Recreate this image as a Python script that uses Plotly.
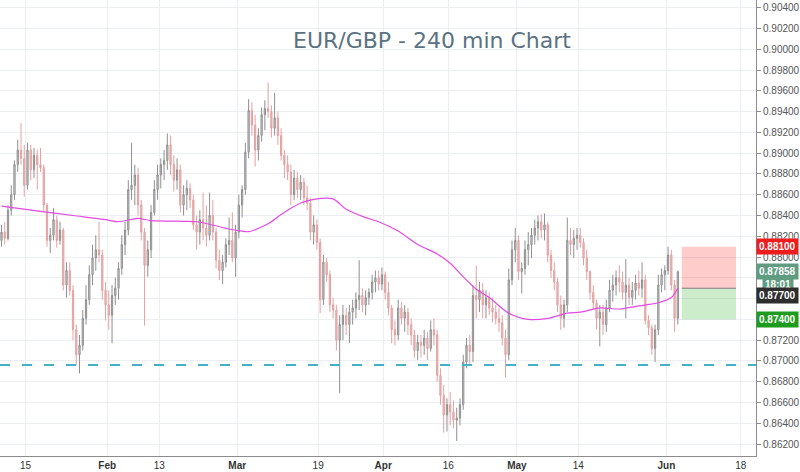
import numpy as np
import pandas as pd
import plotly.graph_objects as go

# ---------------- DATA ----------------
# EUR/GBP, two candles per trading day (AM / PM half), prices in pips (1 pip = 0.0001)
first_day, last_day = "2018-01-09", "2018-06-04"

open_pips = [
    8821, 8816, 8824, 8818, 8845, 8860, 8889, 8903, 8895, 8869,
    8903, 8884, 8898, 8889, 8886, 8850, 8816, 8821, 8836, 8816,
    8826, 8773, 8787, 8768, 8730, 8706, 8715, 8741, 8759, 8783,
    8799, 8807, 8802, 8768, 8754, 8744, 8763, 8770, 8789, 8812,
    8826, 8865, 8869, 8879, 8850, 8824, 8792, 8807, 8843, 8865,
    8879, 8889, 8893, 8908, 8889, 8874, 8884, 8850, 8860, 8866,
    8855, 8831, 8824, 8836, 8828, 8821, 8840, 8824, 8797, 8787,
    8795, 8812, 8816, 8799, 8824, 8850, 8865, 8901, 8941, 8927,
    8903, 8917, 8937, 8943, 8940, 8924, 8934, 8917, 8898, 8889,
    8882, 8860, 8876, 8865, 8872, 8857, 8852, 8824, 8831, 8814,
    8759, 8795, 8783, 8754, 8749, 8720, 8735, 8744, 8735, 8747,
    8751, 8759, 8763, 8754, 8761, 8766, 8776, 8780, 8774, 8783,
    8766, 8751, 8730, 8725, 8751, 8741, 8747, 8735, 8725, 8710,
    8718, 8715, 8722, 8712, 8730, 8725, 8686, 8667, 8648, 8658,
    8651, 8643, 8645, 8658, 8699, 8715, 8709, 8763, 8759, 8768,
    8754, 8761, 8751, 8747, 8741, 8737, 8722, 8706, 8778, 8807,
    8816, 8786, 8789, 8807, 8812, 8821, 8828, 8834, 8826, 8831,
    8802, 8787, 8776, 8754, 8741, 8754, 8816, 8812, 8818, 8821,
    8814, 8799, 8786, 8766, 8756, 8741, 8747, 8735, 8751, 8768,
    8773, 8780, 8776, 8766, 8773, 8761, 8768, 8775, 8770, 8778,
    8739, 8732, 8712, 8730, 8773, 8783, 8787, 8802, 8773, 8741,
]
high_pips = [
    8834, 8831, 8834, 8850, 8869, 8893, 8913, 8929, 8908, 8910,
    8908, 8905, 8903, 8905, 8889, 8852, 8828, 8847, 8840, 8834,
    8828, 8795, 8795, 8773, 8735, 8725, 8749, 8773, 8792, 8812,
    8821, 8834, 8807, 8776, 8768, 8773, 8780, 8795, 8821, 8834,
    8874, 8910, 8889, 8886, 8855, 8828, 8816, 8850, 8874, 8889,
    8895, 8903, 8919, 8917, 8898, 8895, 8889, 8869, 8874, 8871,
    8860, 8840, 8845, 8862, 8850, 8862, 8855, 8828, 8807, 8802,
    8818, 8838, 8843, 8831, 8860, 8869, 8910, 8952, 8949, 8937,
    8924, 8944, 8951, 8968, 8946, 8958, 8940, 8924, 8903, 8898,
    8889, 8884, 8882, 8879, 8876, 8869, 8857, 8840, 8836, 8818,
    8802, 8799, 8787, 8761, 8754, 8744, 8754, 8751, 8754, 8759,
    8766, 8797, 8770, 8768, 8770, 8783, 8787, 8787, 8790, 8786,
    8776, 8754, 8739, 8759, 8757, 8754, 8751, 8741, 8730, 8725,
    8725, 8730, 8728, 8739, 8741, 8730, 8693, 8677, 8664, 8670,
    8662, 8655, 8664, 8706, 8722, 8725, 8773, 8792, 8776, 8775,
    8768, 8766, 8761, 8754, 8751, 8744, 8730, 8789, 8816, 8828,
    8821, 8795, 8816, 8824, 8828, 8836, 8840, 8841, 8842, 8834,
    8807, 8795, 8780, 8763, 8759, 8838, 8828, 8826, 8828, 8828,
    8818, 8807, 8787, 8773, 8759, 8754, 8754, 8759, 8778, 8783,
    8787, 8792, 8786, 8798, 8780, 8776, 8783, 8787, 8795, 8783,
    8744, 8735, 8735, 8783, 8789, 8792, 8810, 8807, 8778, 8787,
]
low_pips = [
    8812, 8810, 8812, 8816, 8840, 8855, 8882, 8889, 8858, 8865,
    8874, 8876, 8865, 8882, 8843, 8810, 8804, 8816, 8809, 8812,
    8768, 8761, 8763, 8720, 8696, 8688, 8710, 8735, 8754, 8773,
    8787, 8795, 8759, 8739, 8730, 8717, 8754, 8759, 8783, 8802,
    8821, 8855, 8850, 8840, 8816, 8734, 8781, 8799, 8840, 8855,
    8866, 8874, 8884, 8879, 8863, 8865, 8843, 8840, 8845, 8847,
    8826, 8807, 8812, 8816, 8810, 8816, 8816, 8789, 8778, 8774,
    8790, 8802, 8795, 8781, 8818, 8838, 8860, 8895, 8917, 8887,
    8893, 8911, 8922, 8934, 8915, 8917, 8908, 8893, 8876, 8874,
    8850, 8855, 8857, 8855, 8850, 8845, 8816, 8812, 8807, 8746,
    8754, 8776, 8747, 8741, 8710, 8669, 8720, 8725, 8717, 8735,
    8741, 8749, 8747, 8744, 8754, 8759, 8766, 8768, 8768, 8759,
    8744, 8717, 8715, 8720, 8735, 8728, 8725, 8715, 8703, 8701,
    8703, 8706, 8701, 8709, 8715, 8680, 8658, 8631, 8632, 8638,
    8635, 8623, 8638, 8653, 8693, 8696, 8699, 8741, 8747, 8741,
    8741, 8744, 8737, 8735, 8728, 8715, 8684, 8701, 8773, 8795,
    8778, 8765, 8783, 8792, 8799, 8812, 8816, 8818, 8816, 8795,
    8780, 8768, 8747, 8730, 8732, 8747, 8802, 8799, 8807, 8809,
    8792, 8778, 8759, 8749, 8730, 8714, 8725, 8728, 8747, 8757,
    8763, 8766, 8759, 8741, 8754, 8754, 8759, 8763, 8761, 8735,
    8725, 8706, 8699, 8725, 8766, 8768, 8783, 8768, 8728, 8735,
]
close_pips = [
    8816, 8824, 8818, 8845, 8860, 8889, 8903, 8895, 8869, 8903,
    8884, 8898, 8889, 8886, 8850, 8816, 8821, 8836, 8816, 8826,
    8773, 8787, 8768, 8730, 8706, 8715, 8741, 8759, 8783, 8799,
    8807, 8802, 8768, 8754, 8744, 8763, 8770, 8789, 8812, 8826,
    8865, 8869, 8879, 8850, 8824, 8792, 8807, 8843, 8865, 8879,
    8889, 8893, 8908, 8889, 8874, 8884, 8850, 8860, 8866, 8855,
    8831, 8824, 8836, 8828, 8821, 8840, 8824, 8797, 8787, 8795,
    8812, 8816, 8799, 8824, 8850, 8865, 8901, 8941, 8927, 8903,
    8917, 8937, 8943, 8940, 8924, 8934, 8917, 8898, 8889, 8882,
    8860, 8876, 8865, 8872, 8857, 8852, 8824, 8831, 8814, 8759,
    8795, 8783, 8754, 8749, 8720, 8735, 8744, 8735, 8747, 8751,
    8759, 8763, 8754, 8761, 8766, 8776, 8780, 8774, 8783, 8766,
    8751, 8730, 8725, 8751, 8741, 8747, 8735, 8725, 8710, 8718,
    8715, 8722, 8712, 8730, 8725, 8686, 8667, 8648, 8658, 8651,
    8643, 8645, 8658, 8699, 8715, 8709, 8763, 8759, 8768, 8754,
    8761, 8751, 8747, 8741, 8737, 8722, 8706, 8778, 8807, 8816,
    8786, 8789, 8807, 8812, 8821, 8828, 8834, 8826, 8831, 8802,
    8787, 8776, 8754, 8741, 8754, 8816, 8812, 8818, 8821, 8814,
    8799, 8786, 8766, 8756, 8741, 8747, 8735, 8751, 8768, 8773,
    8780, 8776, 8766, 8773, 8761, 8768, 8775, 8770, 8778, 8739,
    8732, 8712, 8730, 8773, 8783, 8787, 8802, 8773, 8741, 8785.8,
]

# 200-period moving average (trading day -> value)
ma_days = ["2018-01-09", "2018-01-17", "2018-01-24", "2018-01-31", "2018-02-02",
           "2018-02-07", "2018-02-09", "2018-02-20", "2018-02-27", "2018-03-01",
           "2018-03-02", "2018-03-07", "2018-03-09", "2018-03-14", "2018-03-16",
           "2018-03-21", "2018-03-23", "2018-03-28", "2018-03-30", "2018-04-04",
           "2018-04-09", "2018-04-12", "2018-04-16", "2018-04-18", "2018-04-20",
           "2018-04-24", "2018-04-27", "2018-05-02", "2018-05-07", "2018-05-10",
           "2018-05-14", "2018-05-17", "2018-05-22", "2018-05-25", "2018-05-30",
           "2018-06-01", "2018-06-04"]
ma_vals = [0.8849, 0.8844, 0.8840, 0.8836, 0.8834,
           0.88373, 0.8835, 0.8834, 0.8827, 0.8825,
           0.88244, 0.8832, 0.8841, 0.8852, 0.88556,
           0.8856, 0.8846, 0.8838, 0.8834, 0.8825,
           0.8812, 0.8803, 0.8794, 0.8781, 0.8769,
           0.8761, 0.8746, 0.8740, 0.8741, 0.8746,
           0.8747, 0.8751, 0.8750, 0.8753, 0.8756,
           0.8761, 0.8770]

support_level = 0.8696
entry_price, stop_price, target_price = 0.8770, 0.8810, 0.8740
last_price = 0.87858
countdown = "18:01"

price_ticks = [0.862, 0.864, 0.866, 0.868, 0.870, 0.872, 0.874, 0.876, 0.878, 0.880,
               0.882, 0.884, 0.886, 0.888, 0.890, 0.892, 0.894, 0.896, 0.898, 0.900,
               0.902, 0.904]
hidden_price_ticks = [0.874, 0.876, 0.878]   # covered by the price badges in the reference

tick_dates = ["2018-01-15", "2018-02-01", "2018-02-13", "2018-03-01", "2018-03-19",
              "2018-04-02", "2018-04-16", "2018-05-01", "2018-05-14", "2018-06-01",
              "2018-06-18"]
tick_text = ["15", "<b>Feb</b>", "13", "<b>Mar</b>", "19", "<b>Apr</b>", "16",
             "<b>May</b>", "14", "<b>Jun</b>", "18"]
title_text = "EUR/GBP - 240 min Chart"

# ---------------- BUILD ----------------
origin = np.datetime64("2018-01-15")


def tday(d):
    return np.busday_count(origin, np.datetime64(d))


days = pd.bdate_range(first_day, last_day)
day_idx = np.array([tday(str(d.date())) for d in days])
cx = np.repeat(day_idx, 2) + np.tile([0.25, 0.75], len(day_idx))

o = [v / 10000 for v in open_pips]
h = [v / 10000 for v in high_pips]
l = [v / 10000 for v in low_pips]
c = [v / 10000 for v in close_pips]

ma_x = [tday(d) + 0.75 for d in ma_days]

# Monday labels sit after the Sunday session, slightly right of the day start
tick_x = [tday(d) + (0.44 if pd.Timestamp(d).weekday() == 0 else 0.0) for d in tick_dates]

ytext = ["" if v in hidden_price_ticks else "%.5f" % v for v in price_ticks]

fig = go.Figure()
fig.add_trace(go.Candlestick(
    x=cx, open=o, high=h, low=l, close=c,
    increasing=dict(line=dict(color="#8f8f8f", width=1), fillcolor="#d6d6d6"),
    decreasing=dict(line=dict(color="#e3a1a1", width=1), fillcolor="#efbcbc"),
    whiskerwidth=0, showlegend=False, hoverinfo="skip",
))
fig.add_trace(go.Scatter(
    x=ma_x, y=ma_vals, mode="lines",
    line=dict(color="#e24ae2", width=1.2, shape="spline", smoothing=0.8),
    showlegend=False, hoverinfo="skip",
))

box_x0 = cx[-1] + 0.6
box_x1 = box_x0 + 8.35

shapes = [
    dict(type="line", xref="paper", x0=0, x1=1, yref="y", y0=support_level, y1=support_level,
         line=dict(color="#44b2c6", width=2, dash="10px,12px"), layer="above"),
    dict(type="rect", xref="x", x0=box_x0, x1=box_x1, yref="y", y0=entry_price, y1=stop_price,
         fillcolor="rgba(255,0,0,0.2)", line=dict(width=0), layer="above"),
    dict(type="rect", xref="x", x0=box_x0, x1=box_x1, yref="y", y0=target_price, y1=entry_price,
         fillcolor="rgba(0,160,0,0.2)", line=dict(width=0), layer="above"),
    dict(type="line", xref="x", x0=box_x0, x1=box_x1, yref="y", y0=entry_price, y1=entry_price,
         line=dict(color="#7d7d7d", width=1), layer="above"),
]


def badge(price, bg, yshift=0, text=None, anchor="left", xshift=0):
    return dict(xref="paper", x=1, xanchor=anchor, xshift=xshift, yref="y", y=price,
                yanchor="middle", yshift=yshift,
                text="<b>%s</b>" % (text if text else "%.5f" % price),
                showarrow=False, font=dict(family="Liberation Sans, Arial", size=10, color="white"),
                bgcolor=bg, borderpad=2)


annotations = [
    dict(xref="paper", yref="paper", x=435 / 762, y=1 - 40 / 456, xanchor="center",
         yanchor="middle", text=title_text, showarrow=False,
         font=dict(family="DejaVu Sans", size=22, color="#5a7282")),
    badge(stop_price, "#ee1c1c"),
    badge(last_price, "#5f9c80"),
    badge(last_price, "#5f9c80", yshift=-13, text=countdown, anchor="right", xshift=38),
    badge(entry_price, "#2e2e2e", yshift=-7),
    badge(target_price, "#1f9c1f"),
]

fig.update_layout(
    width=800, height=472,
    margin=dict(l=0, r=38, t=0, b=16),
    paper_bgcolor="white", plot_bgcolor="white",
    boxgap=0.45,
    shapes=shapes, annotations=annotations,
    showlegend=False,
    xaxis=dict(
        range=[-3.478, 112.77], tickmode="array", tickvals=tick_x, ticktext=tick_text,
        showgrid=True, gridcolor="#eceff2", gridwidth=1, zeroline=False,
        showline=True, linecolor="#8c8c8c", linewidth=1, ticks="",
        tickfont=dict(family="Liberation Sans, Arial", size=10, color="#333333"),
        rangeslider=dict(visible=False), fixedrange=True,
    ),
    yaxis=dict(
        side="right", range=[0.860852, 0.904741], tickmode="array",
        tickvals=price_ticks, ticktext=ytext,
        showgrid=True, gridcolor="#eceff2", gridwidth=1,
        zeroline=False, showline=True, linecolor="#8c8c8c", linewidth=1,
        ticks="outside", ticklen=4, tickcolor="#8c8c8c",
        tickfont=dict(family="Liberation Sans, Arial", size=10, color="#555555"),
        fixedrange=True,
    ),
)

fig.write_html("out.html")
